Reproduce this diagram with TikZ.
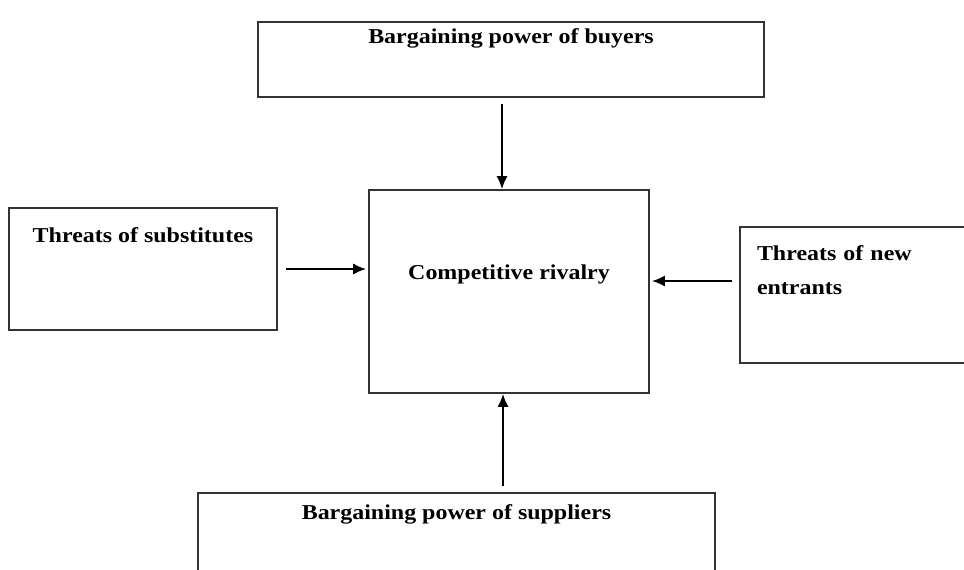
\documentclass[tikz,border=0pt]{standalone}
\usepackage{fontspec}
\setmainfont{Liberation Serif}[FakeStretch=1.13]
\usetikzlibrary{arrows.meta}

\begin{document}
\begin{tikzpicture}[x=0.75pt, y=0.75pt, >={Latex[length=10pt,width=8.5pt]},
  force/.style={rectangle, draw=black!80, line width=0.9pt, fill=white, inner sep=0pt,
    font=\fontsize{15.9pt}{26pt}\selectfont\bfseries, text height=11pt},
  push/.style={->, line width=2pt}]
\useasboundingbox (0,0) rectangle (964,569);
\clip (0,0) rectangle (964,569);

%Competitive rivalry
\node[force, minimum width=210pt, minimum height=152.25pt,
text depth=29.75pt] (rivalry) at (509,277.5) {Competitive rivalry};

%Buyers
\node[force, minimum width=379.5pt, minimum height=56.25pt,
text depth=35.25pt] (buyers) at (511,509.5) {Bargaining power of buyers};

%Substitutes
\node[force, minimum width=201pt, minimum height=91.5pt,
text depth=50.5pt] (subst) at (143,300) {Threats of substitutes};

%New entrants
\node[force, minimum width=195pt, minimum height=102pt,
text width=169.5pt, align=left, text depth=63.5pt] (entrants) at (870,274) {
Threats of new\\
entrants
};

%Suppliers
\node[force, minimum width=387.75pt, minimum height=95.25pt,
text depth=67.25pt] (suppliers) at (456.5,12.5) {Bargaining power of suppliers};

%Paths
%buyers to rivalry
\draw[push, shorten <=4.5pt] ([xshift=-5.25pt]rivalry.north |- buyers.south) -- ([xshift=-5.25pt]rivalry.north);
%substitutes to rivalry
\draw[push, shorten <=6pt, shorten >=1.5pt] (subst.east) -- (subst.east -| rivalry.west);
%new entrants to rivalry
\draw[push, shorten <=5.25pt, shorten >=1.5pt] ([yshift=10.5pt]entrants.west) -- ([yshift=10.5pt]entrants.west -| rivalry.east);
%suppliers to rivalry
\draw[push, shorten <=4.5pt] ([xshift=-4.5pt]rivalry.south |- suppliers.north) -- ([xshift=-4.5pt]rivalry.south);

\end{tikzpicture}
\end{document}
